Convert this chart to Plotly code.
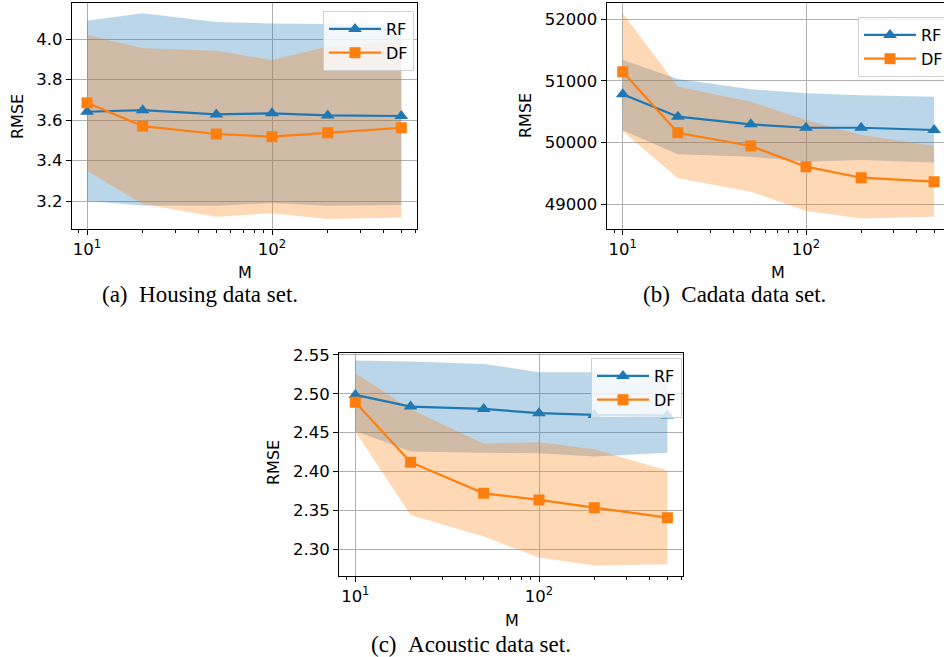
import plotly.graph_objects as go

# ---------------- data ----------------
M = [10, 20, 50, 100, 200, 500]

housing_rf = [3.641, 3.649, 3.628, 3.633, 3.623, 3.620]
housing_rf_hi = [4.090, 4.127, 4.084, 4.077, 4.074, 4.070]
housing_rf_lo = [3.200, 3.178, 3.177, 3.190, 3.177, 3.180]
housing_df = [3.685, 3.570, 3.531, 3.518, 3.537, 3.562]
housing_df_hi = [4.020, 3.954, 3.942, 3.896, 3.962, 3.990]
housing_df_lo = [3.350, 3.185, 3.123, 3.140, 3.111, 3.119]

cadata_rf = [50782, 50418, 50294, 50239, 50239, 50202]
cadata_rf_hi = [51339, 51030, 50863, 50798, 50765, 50743]
cadata_rf_lo = [50200, 49807, 49768, 49687, 49714, 49676]
cadata_df = [51149, 50158, 49942, 49606, 49427, 49362]
cadata_df_hi = [52097, 50906, 50662, 50364, 50120, 49947]
cadata_df_lo = [50180, 49417, 49200, 48886, 48766, 48793]

acoustic_rf = [2.4985, 2.4835, 2.4805, 2.4750, 2.4728, 2.4720]
acoustic_rf_hi = [2.5427, 2.5414, 2.5384, 2.5277, 2.5277, 2.5213]
acoustic_rf_lo = [2.4520, 2.4256, 2.4243, 2.4235, 2.4192, 2.4243]
acoustic_df = [2.4890, 2.4120, 2.3720, 2.3635, 2.3536, 2.3407]
acoustic_df_hi = [2.5264, 2.4800, 2.4357, 2.4377, 2.4288, 2.4013]
acoustic_df_lo = [2.4514, 2.3442, 2.3164, 2.2894, 2.2791, 2.2808]

housing_yticks = [3.2, 3.4, 3.6, 3.8, 4.0]
cadata_yticks = [49000, 50000, 51000, 52000]
acoustic_yticks = [2.30, 2.35, 2.40, 2.45, 2.50, 2.55]

xtick_vals = [10, 100]
xtick_text = ["10<sup>1</sup>", "10<sup>2</sup>"]
minor_vals = [9, 20, 30, 40, 50, 60, 70, 80, 90, 200, 300, 400, 500, 600]

captions = ["(a)\u2002Housing data set.", "(b)\u2002Cadata data set.", "(c)\u2002Acoustic data set."]

# ---------------- styling ----------------
BLUE = "#1f77b4"
ORANGE = "#ff7f0e"
BLUE_FILL = "rgba(31,119,180,0.3)"
ORANGE_FILL = "rgba(255,127,14,0.3)"
FONT = "DejaVu Sans"
W, H = 944, 657

fig = go.Figure()

panels = [
    dict(rf=housing_rf, rf_hi=housing_rf_hi, rf_lo=housing_rf_lo,
         df=housing_df, df_hi=housing_df_hi, df_lo=housing_df_lo,
         yticks=housing_yticks, yfmt=".1f",
         px=(72, 417), py=(3, 229), xr=[0.9189, 2.7838], yr=[3.062, 4.178],
         legend="legend", leg=(323, 11), mirror_y=True,
         cap=(200, 295), mlab=(245, 272), rlab=(17, 117)),
    dict(rf=cadata_rf, rf_hi=cadata_rf_hi, rf_lo=cadata_rf_lo,
         df=cadata_df, df_hi=cadata_df_hi, df_lo=cadata_df_lo,
         yticks=cadata_yticks, yfmt="d",
         px=(606.7, 944), py=(3, 229), xr=[0.9127, 2.7529], yr=[48594, 52265],
         legend="legend2", leg=(858, 17), mirror_y=False,
         cap=(734, 295), mlab=(778, 272), rlab=(525, 116)),
    dict(rf=acoustic_rf, rf_hi=acoustic_rf_hi, rf_lo=acoustic_rf_lo,
         df=acoustic_df, df_hi=acoustic_df_hi, df_lo=acoustic_df_lo,
         yticks=acoustic_yticks, yfmt=".2f",
         px=(339.3, 683.3), py=(353.3, 576), xr=[0.9129, 2.7855], yr=[2.2657, 2.552],
         legend="legend3", leg=(591, 358), mirror_y=True,
         cap=(471, 644), mlab=(512, 620), rlab=(273, 463)),
]

layout = {}
annotations = []
for i, p in enumerate(panels):
    n = "" if i == 0 else str(i + 1)
    xa, ya = "x" + n, "y" + n
    # bands
    fig.add_trace(go.Scatter(x=M + M[::-1], y=p["rf_hi"] + p["rf_lo"][::-1],
                             fill="toself", fillcolor=BLUE_FILL, mode="none",
                             line=dict(width=0), hoverinfo="skip", showlegend=False,
                             xaxis=xa, yaxis=ya))
    fig.add_trace(go.Scatter(x=M + M[::-1], y=p["df_hi"] + p["df_lo"][::-1],
                             fill="toself", fillcolor=ORANGE_FILL, mode="none",
                             line=dict(width=0), hoverinfo="skip", showlegend=False,
                             xaxis=xa, yaxis=ya))
    fig.add_trace(go.Scatter(x=M, y=p["rf"], name="RF", mode="lines+markers",
                             line=dict(color=BLUE, width=2.2),
                             marker=dict(symbol="triangle-up", size=12, color=BLUE),
                             legend=p["legend"], xaxis=xa, yaxis=ya))
    fig.add_trace(go.Scatter(x=M, y=p["df"], name="DF", mode="lines+markers",
                             line=dict(color=ORANGE, width=2.2),
                             marker=dict(symbol="square", size=11, color=ORANGE),
                             legend=p["legend"], xaxis=xa, yaxis=ya))

    layout["xaxis" + n] = dict(
        type="log", range=p["xr"], domain=[p["px"][0] / W, p["px"][1] / W],
        anchor=ya, tickvals=xtick_vals, ticktext=xtick_text, automargin=False,
        ticks="outside", ticklen=5, tickwidth=1.1, tickcolor="black",
        showgrid=True, gridcolor="#b0b0b0", gridwidth=1,
        showline=True, linecolor="black", linewidth=1.3, mirror=True,
        zeroline=False,
        minor=dict(tickvals=minor_vals, ticks="outside", ticklen=3, tickwidth=0.9,
                   tickcolor="black", showgrid=False),
        tickfont=dict(family=FONT, size=16.5, color="black"),
    )
    layout["yaxis" + n] = dict(
        range=p["yr"], domain=[1 - p["py"][1] / H, 1 - p["py"][0] / H],
        anchor=xa, tickvals=p["yticks"], tickformat=p["yfmt"], automargin=False,
        ticks="outside", ticklen=5, tickwidth=1.1, tickcolor="black",
        showgrid=True, gridcolor="#b0b0b0", gridwidth=1,
        showline=True, linecolor="black", linewidth=1.3, mirror=p["mirror_y"],
        zeroline=False,
        tickfont=dict(family=FONT, size=16.5, color="black"),
    )
    layout[p["legend"]] = dict(
        x=p["leg"][0] / W, y=1 - p["leg"][1] / H, xanchor="left", yanchor="top",
        bgcolor="rgba(255,255,255,0.8)", bordercolor="#d0d0d0", borderwidth=1,
        font=dict(family=FONT, size=16, color="black"), itemwidth=52,
        tracegroupgap=0,
    )
    annotations.append(dict(text=captions[i], x=p["cap"][0] / W, y=1 - p["cap"][1] / H,
                             xref="paper", yref="paper", showarrow=False,
                             xanchor="center", yanchor="middle",
                             font=dict(family="Liberation Serif", size=23, color="black")))
    annotations.append(dict(text="M", x=p["mlab"][0] / W, y=1 - p["mlab"][1] / H,
                             xref="paper", yref="paper", showarrow=False,
                             xanchor="center", yanchor="middle",
                             font=dict(family=FONT, size=16, color="black")))
    annotations.append(dict(text="RMSE", x=p["rlab"][0] / W, y=1 - p["rlab"][1] / H,
                             xref="paper", yref="paper", showarrow=False, textangle=-90,
                             xanchor="center", yanchor="middle",
                             font=dict(family=FONT, size=16, color="black")))

fig.update_layout(**layout)
fig.update_layout(template="none", width=W, height=H,
                  margin=dict(l=0, r=0, t=0, b=0, pad=0, autoexpand=False),
                  plot_bgcolor="white", paper_bgcolor="white",
                  annotations=annotations, font=dict(family=FONT, color="black"))

fig.write_html("out.html", config={"displayModeBar": False},
               post_script="document.body.style.margin='0px';document.body.style.overflow='hidden';")
